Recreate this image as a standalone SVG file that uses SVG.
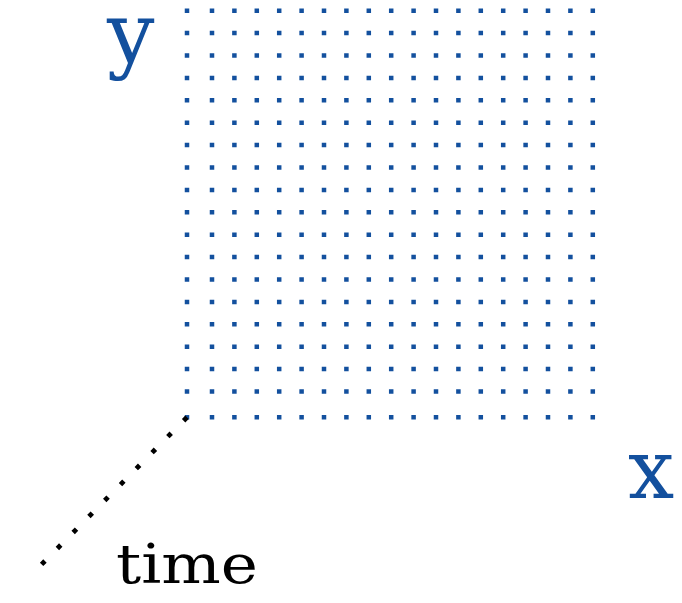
<svg xmlns="http://www.w3.org/2000/svg" width="682" height="603" viewBox="0 0 682 603">
<style>
.row{stroke:#13509e;stroke-width:4.5;stroke-dasharray:4.5 17.9;fill:none}
.blue{fill:#13509e}
.lbl{font-family:"DejaVu Serif","Liberation Serif",serif}
.tdots{stroke:#000;stroke-width:4.8;stroke-dasharray:4.8 17.65;fill:none}
</style>
<rect width="682" height="603" fill="#fff"/>
<g id="grid">
<line class="row" x1="209.75" y1="10.7" x2="595.05" y2="10.7"/>
<line class="row" x1="209.75" y1="33.1" x2="595.05" y2="33.1"/>
<line class="row" x1="209.75" y1="55.5" x2="595.05" y2="55.5"/>
<line class="row" x1="209.75" y1="77.9" x2="595.05" y2="77.9"/>
<line class="row" x1="209.75" y1="100.3" x2="595.05" y2="100.3"/>
<line class="row" x1="209.75" y1="122.7" x2="595.05" y2="122.7"/>
<line class="row" x1="209.75" y1="145.1" x2="595.05" y2="145.1"/>
<line class="row" x1="209.75" y1="167.5" x2="595.05" y2="167.5"/>
<line class="row" x1="209.75" y1="189.9" x2="595.05" y2="189.9"/>
<line class="row" x1="209.75" y1="212.3" x2="595.05" y2="212.3"/>
<line class="row" x1="209.75" y1="234.7" x2="595.05" y2="234.7"/>
<line class="row" x1="209.75" y1="257.1" x2="595.05" y2="257.1"/>
<line class="row" x1="209.75" y1="279.5" x2="595.05" y2="279.5"/>
<line class="row" x1="209.75" y1="301.9" x2="595.05" y2="301.9"/>
<line class="row" x1="209.75" y1="324.3" x2="595.05" y2="324.3"/>
<line class="row" x1="209.75" y1="346.7" x2="595.05" y2="346.7"/>
<line class="row" x1="209.75" y1="369.1" x2="595.05" y2="369.1"/>
<line class="row" x1="209.75" y1="391.5" x2="595.05" y2="391.5"/>
<line class="row" x1="209.75" y1="417.3" x2="595.05" y2="417.3"/>
<line class="row" x1="187" y1="8.45" x2="187" y2="393.75"/>
<rect class="blue" x="184.75" y="415.05" width="4.5" height="4.5"/>
</g>
<g id="time-axis">
<line class="tdots" x1="187" y1="417.3" x2="41.6" y2="564.4"/>
</g>
<g id="labels">
<text class="lbl blue" x="107" y="62" font-size="84">y</text>
<text class="lbl blue" x="628" y="498" font-size="82">x</text>
<text class="lbl" x="116" y="583" font-size="54" textLength="142" lengthAdjust="spacingAndGlyphs" fill="#000">time</text>
</g>
</svg>
